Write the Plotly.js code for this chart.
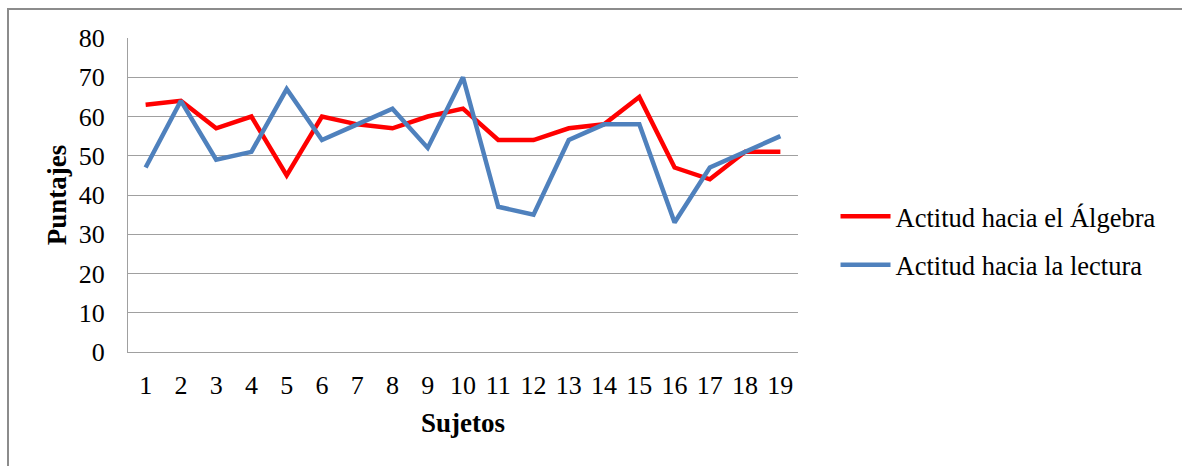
<!DOCTYPE html>
<html>
<head>
<meta charset="utf-8">
<script src="https://cdn.plot.ly/plotly-3.0.1.min.js"></script>
<style>
  html, body { margin: 0; padding: 0; background: #fff; }
  #wrap { position: relative; width: 1182px; height: 466px; overflow: hidden; }
  #chart { position: absolute; left: 0; top: 0; width: 1182px; height: 466px; }
  #frame { position: absolute; left: 7px; top: 8px; width: 1200px; height: 500px;
           border-top: 2px solid #8c8c8c; border-left: 2px solid #8c8c8c; pointer-events: none; }
</style>
</head>
<body>
<div id="wrap">
  <div id="chart"></div>
  <div id="frame"></div>
</div>
<script>
const sujetos = ["1","2","3","4","5","6","7","8","9","10","11","12","13","14","15","16","17","18","19"];
const algebra = [63, 64, 57, 60, 45, 60, 58, 57, 60, 62, 54, 54, 57, 58, 65, 47, 44, 51, 51];
const lectura = [47, 64, 49, 51, 67, 54, 58, 62, 52, 70, 37, 35, 54, 58, 58, 33, 47, 51, 55];
const yTicks = [0, 10, 20, 30, 40, 50, 60, 70, 80];

const font = "Liberation Serif, Times New Roman, serif";

const traces = [
  { x: sujetos, y: algebra, type: "scatter", mode: "lines", name: "Actitud hacia el Álgebra",
    legendgroup: "a", line: { color: "#ff0000", width: 4.5 } },
  { x: sujetos, y: lectura, type: "scatter", mode: "lines", name: "Actitud hacia la lectura",
    legendgroup: "b", line: { color: "#4f81bd", width: 4.5 } }
];

const layout = {
  width: 1182, height: 466,
  margin: { l: 128, r: 384, t: 38, b: 114 },
  paper_bgcolor: "#ffffff", plot_bgcolor: "#ffffff",
  font: { family: font, size: 26, color: "#000" },
  showlegend: true,
  legend: { x: 1.056, y: 0.355, xanchor: "left", yanchor: "middle",
            font: { family: font, size: 26.5, color: "#000" }, tracegroupgap: 11,
            itemwidth: 50, bgcolor: "rgba(0,0,0,0)" },
  xaxis: {
    type: "category", tickvals: sujetos, ticktext: sujetos,
    showgrid: false, zeroline: false, showline: true, linecolor: "#a0a0a0", linewidth: 1,
    ticks: "", ticklabelstandoff: 10, tickfont: { family: font, size: 26 }, mirror: false,
    title: { text: "<b>Sujetos</b>", font: { family: font, size: 27 }, standoff: 13 },
    range: [-0.5, 18.5]
  },
  yaxis: {
    range: [0, 80], tickvals: yTicks, ticktext: yTicks.map(String),
    showgrid: true, gridcolor: "#a0a0a0", gridwidth: 1,
    zeroline: false, showline: true, linecolor: "#a0a0a0", linewidth: 1,
    ticks: "", ticklabelstandoff: 17, tickfont: { family: font, size: 26 },
    title: { text: "<b>Puntajes</b>", font: { family: font, size: 27 }, standoff: 4 }
  }
};

Plotly.newPlot("chart", traces, layout, { staticPlot: true, displayModeBar: false });
</script>
</body>
</html>
